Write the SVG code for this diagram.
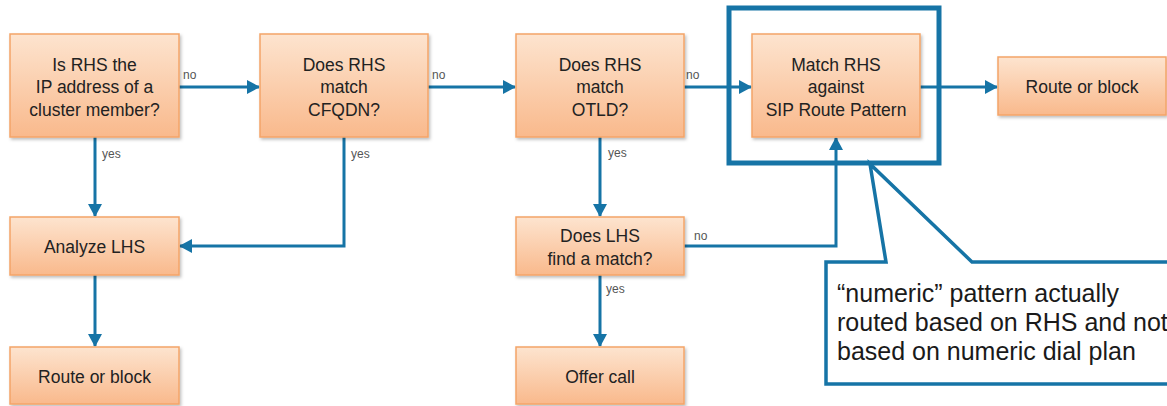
<svg xmlns="http://www.w3.org/2000/svg" width="1167" height="406" viewBox="0 0 1167 406">
  <defs>
    <linearGradient id="boxFill" x1="0" y1="0" x2="0" y2="1">
      <stop offset="0" stop-color="#fde4cf"/>
      <stop offset="1" stop-color="#f9b98c"/>
    </linearGradient>
    <filter id="shadow" x="-10%" y="-10%" width="125%" height="130%">
      <feDropShadow dx="1.5" dy="2" stdDeviation="1.5" flood-color="#000" flood-opacity="0.25"/>
    </filter>
    <marker id="arrow" markerUnits="userSpaceOnUse" markerWidth="14" markerHeight="14" refX="12" refY="7" orient="auto">
      <path d="M0,0 L13,7 L0,14 Z" fill="#1674a6"/>
    </marker>
    <style>
      .box { fill: url(#boxFill); stroke: #f4a468; stroke-width: 1.5; filter: url(#shadow); }
      .lbl { font-family: "Liberation Sans", Arial, sans-serif; font-size: 17.5px; fill: #222; text-anchor: middle; }
      .tag { font-family: "Liberation Sans", Arial, sans-serif; font-size: 12px; fill: #555; }
      .wire { fill: none; stroke: #1674a6; stroke-width: 3; }
      .frame { fill: none; stroke: #1674a6; stroke-width: 5; }
      .note { fill: #fff; stroke: #1674a6; stroke-width: 3.5; stroke-linejoin: miter; }
      .noteText { font-family: "Liberation Sans", Arial, sans-serif; font-size: 25px; fill: #1a1a1a; }
    </style>
  </defs>

  <!-- highlight frame around the route pattern step -->
  <rect id="highlight" class="frame" x="729" y="8" width="210" height="155"/>

  <!-- connectors -->
  <g id="connectors">
    <line class="wire" x1="179" y1="87" x2="259" y2="87" marker-end="url(#arrow)"/>
    <line class="wire" x1="428" y1="87" x2="515" y2="87" marker-end="url(#arrow)"/>
    <line class="wire" x1="684" y1="87" x2="751" y2="87" marker-end="url(#arrow)"/>
    <line class="wire" x1="920" y1="87" x2="997" y2="87" marker-end="url(#arrow)"/>
    <line class="wire" x1="95" y1="137" x2="95" y2="216" marker-end="url(#arrow)"/>
    <polyline class="wire" points="344,137 344,246 180,246" marker-end="url(#arrow)"/>
    <line class="wire" x1="95" y1="275" x2="95" y2="346" marker-end="url(#arrow)"/>
    <line class="wire" x1="600" y1="137" x2="600" y2="216" marker-end="url(#arrow)"/>
    <polyline class="wire" points="684,246 836,246 836,138" marker-end="url(#arrow)"/>
    <line class="wire" x1="600" y1="275" x2="600" y2="346" marker-end="url(#arrow)"/>

    <text class="tag" x="183" y="79">no</text>
    <text class="tag" x="432" y="79">no</text>
    <text class="tag" x="686" y="79">no</text>
    <text class="tag" x="102" y="158">yes</text>
    <text class="tag" x="351" y="158">yes</text>
    <text class="tag" x="608" y="157">yes</text>
    <text class="tag" x="694" y="240">no</text>
    <text class="tag" x="606" y="293">yes</text>
  </g>

  <!-- decision and action nodes -->
  <g id="isClusterMember">
    <rect class="box" x="10" y="34" width="169" height="103"/>
    <text class="lbl" x="94.5" y="71">Is RHS the</text>
    <text class="lbl" x="94.5" y="93">IP address of a</text>
    <text class="lbl" x="94.5" y="116">cluster member?</text>
  </g>
  <g id="matchCfqdn">
    <rect class="box" x="260" y="34" width="168" height="103"/>
    <text class="lbl" x="344" y="71">Does RHS</text>
    <text class="lbl" x="344" y="93">match</text>
    <text class="lbl" x="344" y="116">CFQDN?</text>
  </g>
  <g id="matchOtld">
    <rect class="box" x="516" y="34" width="168" height="103"/>
    <text class="lbl" x="600" y="71">Does RHS</text>
    <text class="lbl" x="600" y="93">match</text>
    <text class="lbl" x="600" y="116">OTLD?</text>
  </g>
  <g id="sipRoutePattern">
    <rect class="box" x="752" y="34" width="168" height="103"/>
    <text class="lbl" x="836" y="71">Match RHS</text>
    <text class="lbl" x="836" y="93">against</text>
    <text class="lbl" x="836" y="116">SIP Route Pattern</text>
  </g>
  <g id="routeOrBlockTop">
    <rect class="box" x="998" y="57" width="168" height="58"/>
    <text class="lbl" x="1082" y="93">Route or block</text>
  </g>
  <g id="analyzeLhs">
    <rect class="box" x="10" y="217" width="169" height="58"/>
    <text class="lbl" x="94.5" y="253">Analyze LHS</text>
  </g>
  <g id="routeOrBlockBottom">
    <rect class="box" x="10" y="347" width="169" height="57"/>
    <text class="lbl" x="94.5" y="383">Route or block</text>
  </g>
  <g id="lhsMatch">
    <rect class="box" x="516" y="217" width="168" height="58"/>
    <text class="lbl" x="600" y="242">Does LHS</text>
    <text class="lbl" x="600" y="265">find a match?</text>
  </g>
  <g id="offerCall">
    <rect class="box" x="516" y="347" width="168" height="57"/>
    <text class="lbl" x="600" y="383">Offer call</text>
  </g>

  <!-- callout note -->
  <g id="callout">
    <path class="note" d="M826,262 L886,262 L870,164 L972,262 L1180,262 L1180,384 L826,384 Z"/>
    <text class="noteText" x="837" y="302">“numeric” pattern actually</text>
    <text class="noteText" x="837" y="331">routed based on RHS and not</text>
    <text class="noteText" x="837" y="360">based on numeric dial plan</text>
  </g>
</svg>
